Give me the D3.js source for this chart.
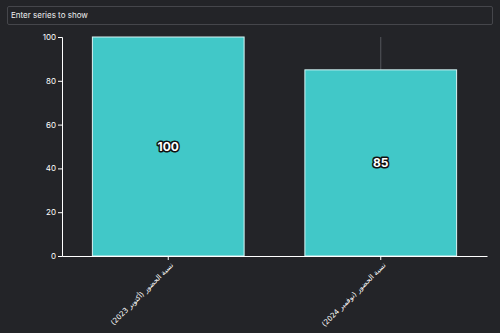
<meta charset="utf-8">
<head>
    <script src="https://cdn.jsdelivr.net/npm/d3@7"></script>
    <style>
        body { margin: 0; background: #232428; }
        .search {
            position: absolute; left: 7px; top: 6px; width: 486px; height: 19px;
            border: 1px solid #45464b; border-radius: 2px; background: #232428;
            color: #f0f0f0; font-family: Inter, sans-serif; font-size: 8px;
            line-height: 17px; padding-left: 3px; box-sizing: border-box;
        }
    </style>
</head>
<body>
    <div class="search">Enter series to show</div>
    <svg width=500 height=333 style="position:absolute;left:0;top:0"></svg>
</body>
<script>
    let categories = ["نسبة الحضور (أكتوبر 2023)", "نسبة الحضور (نوفمبر 2024)"];
    let values = [100, 85];
    let errorTop = [null, 100];
    let yTicks = [0, 20, 40, 60, 80, 100];

    let svg = d3.select("svg");

    let x = d3.scaleBand()
        .domain(categories)
        .range([62, 487])
        .paddingInner(0.286)
        .paddingOuter(0.143);

    let y = d3.scaleLinear()
        .domain([0, 100])
        .range([256, 37]);

    // error line drawn behind the bar
    svg.selectAll("line.err")
        .data(categories.filter((c, i) => errorTop[i] != null))
        .enter()
        .append("line")
        .attr("class", "err")
        .attr("x1", d => x(d) + x.bandwidth() / 2)
        .attr("x2", d => x(d) + x.bandwidth() / 2)
        .attr("y1", d => y(errorTop[categories.indexOf(d)]))
        .attr("y2", d => y(values[categories.indexOf(d)]))
        .attr("stroke", "#55565b")
        .attr("stroke-width", 1);

    svg.selectAll("rect.bar")
        .data(categories)
        .enter()
        .append("rect")
        .attr("class", "bar")
        .attr("x", d => x(d))
        .attr("y", (d, i) => y(values[i]))
        .attr("width", x.bandwidth())
        .attr("height", (d, i) => y(0) - y(values[i]))
        .attr("style", "fill: #41c8c8; stroke: #d8f4f4; stroke-width: 1");

    svg.selectAll("text.val")
        .data(categories)
        .enter()
        .append("text")
        .attr("class", "val")
        .attr("x", d => x(d) + x.bandwidth() / 2)
        .attr("y", (d, i) => (y(values[i]) + y(0)) / 2)
        .attr("dy", ".35em")
        .attr("text-anchor", "middle")
        .attr("font-family", "Inter, sans-serif")
        .attr("font-weight", "bold")
        .attr("font-size", 12)
        .attr("fill", "#ffffff")
        .attr("stroke", "#111")
        .attr("stroke-width", 3)
        .attr("paint-order", "stroke")
        .attr("stroke-linejoin", "round")
        .text((d, i) => values[i]);

    let yAxis = svg.append("g")
        .attr("transform", "translate(62,0)")
        .call(d3.axisLeft(y).tickValues(yTicks).tickSize(4).tickPadding(2));

    let xAxis = svg.append("g")
        .attr("transform", "translate(0,256)")
        .call(d3.axisBottom(x).tickSize(4).tickSizeOuter(0));

    [yAxis, xAxis].forEach(g => {
        g.selectAll("path, line").attr("stroke", "#ffffff");
        g.selectAll("text")
            .attr("fill", "#ffffff")
            .attr("font-family", "Inter, sans-serif")
            .attr("font-size", 8);
    });

    xAxis.selectAll("text")
        .attr("text-anchor", "start")
        .attr("direction", "rtl")
        .attr("font-family", "'DejaVu Sans', sans-serif")
        .attr("font-size", 7.2)
        .attr("dx", "-0.4em")
        .attr("dy", "0.5em")
        .attr("transform", "rotate(-45)");
</script>
